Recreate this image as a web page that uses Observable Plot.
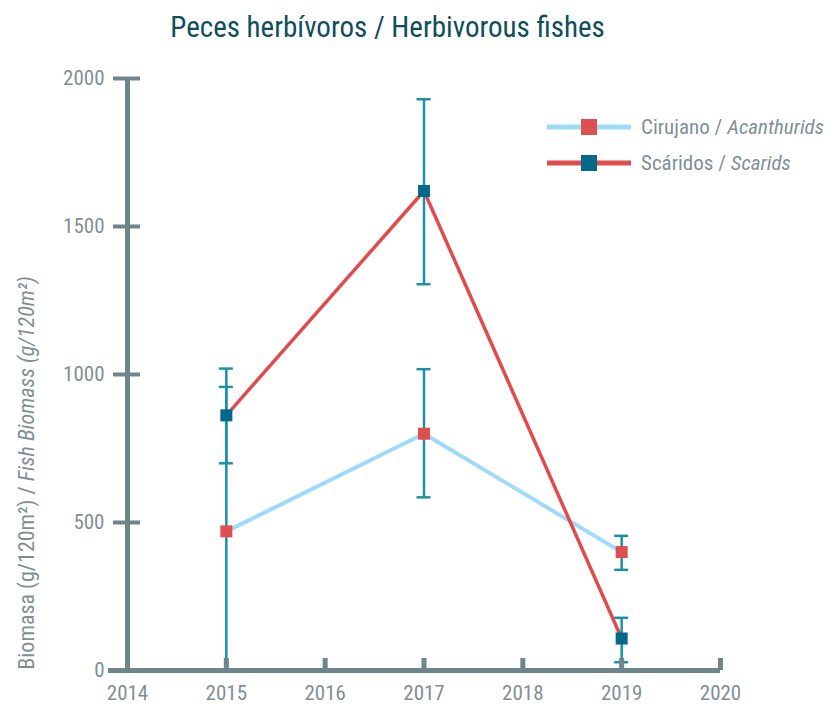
<!DOCTYPE html>
<html><head><meta charset="utf-8">
<script src="https://cdn.jsdelivr.net/npm/d3@7"></script>
<script src="https://cdn.jsdelivr.net/npm/@observablehq/plot@0.6"></script>
<style>
body{margin:0;background:#fff;}
#wrap{position:relative;width:829px;height:707px;overflow:hidden;font-family:"Liberation Sans Narrow","Roboto Condensed","DejaVu Sans Condensed","Arial Narrow",sans-serif;}
#chart{position:absolute;left:0;top:0;}
#title{position:absolute;left:0;width:775px;top:10px;text-align:center;font-size:29px;color:#0e4f5b;white-space:nowrap;}
#ylabel{position:absolute;left:26px;top:473px;transform:translate(-50%,-50%) rotate(-90deg);white-space:nowrap;font-size:22px;color:#7f9095;}
#legend{position:absolute;left:547px;top:109px;}
.lrow{display:flex;align-items:center;height:36px;font-size:21px;color:#7f9095;white-space:nowrap;}
.lrow svg{margin-right:10px;}
</style>
</head><body>
<div id="wrap">
  <div id="chart"></div>
  <div id="title">Peces herbívoros / Herbivorous fishes</div>
  <div id="ylabel">Biomasa (g/120m²) / <i>Fish Biomass (g/120m²)</i></div>
  <div id="legend"></div>
</div>
<script>
// ---- data ----
const years = [2015, 2017, 2019];
const cirujanoMean = [470, 800, 400];
const cirujanoLow  = [-18, 585, 340];
const cirujanoHigh = [958, 1018, 455];
const scaridosMean = [862, 1620, 108];
const scaridosLow  = [700, 1305, 28];
const scaridosHigh = [1020, 1930, 178];
const xTicks = [2014, 2015, 2016, 2017, 2018, 2019, 2020];
const yTicks = [0, 500, 1000, 1500, 2000];
const seriesNames = ["Cirujano", "Scáridos"];
const legendLatin = ["Acanthurids", "Scarids"];

// ---- style ----
const axisGray = "#6f858c";
const textGray = "#7f9095";
const errColor = "#1a91a6";
const lineColors = ["#9edbf8", "#e04b4e"];
const squareColors = ["#e04f50", "#04698a"];
const lineWidths = [4, 3.5];

function rowsFor(name, mean, low, high) {
  return years.map((yr, i) => ({series: name, year: yr, mean: mean[i], low: low[i], high: high[i]}));
}
const data = [
  rowsFor(seriesNames[0], cirujanoMean, cirujanoLow, cirujanoHigh),
  rowsFor(seriesNames[1], scaridosMean, scaridosLow, scaridosHigh)
];
const all = data.flat();

const fontFam = '"Liberation Sans Narrow","Roboto Condensed","DejaVu Sans Condensed","Arial Narrow",sans-serif';

const chart = Plot.plot({
  width: 829, height: 707,
  marginLeft: 127, marginRight: 109, marginTop: 78, marginBottom: 37,
  x: {domain: [2014, 2020]},
  y: {domain: [0, 2000]},
  style: {fontFamily: fontFam, background: "#fff", overflow: "visible"},
  marks: [
    Plot.axisX({ticks: xTicks, tickSize: 0, tickPadding: 15, tickFormat: d => String(d), fontSize: 21, fill: textGray, label: null}),
    Plot.axisY({ticks: yTicks, tickSize: 0, tickPadding: 23, tickFormat: d => String(d), fontSize: 21, fill: textGray, label: null}),
    // lines
    Plot.line(data[0], {x: "year", y: "mean", stroke: lineColors[0], strokeWidth: lineWidths[0]}),
    Plot.line(data[1], {x: "year", y: "mean", stroke: lineColors[1], strokeWidth: lineWidths[1]}),
    // error bars
    Plot.ruleX(all, {x: "year", y1: "low", y2: "high", stroke: errColor, strokeWidth: 2.5, clip: true}),
    Plot.ruleY(all, {x1: "year", x2: "year", y: "high", insetLeft: -7, insetRight: -7, stroke: errColor, strokeWidth: 2.5, clip: true}),
    Plot.ruleY(all, {x1: "year", x2: "year", y: "low", insetLeft: -7, insetRight: -7, stroke: errColor, strokeWidth: 2.5, clip: true}),
    // axes lines & ticks
    Plot.ruleX([xTicks[0]], {stroke: axisGray, strokeWidth: 5}),
    Plot.ruleY([0], {stroke: axisGray, strokeWidth: 5, insetLeft: -19}),
    Plot.ruleY(yTicks, {x1: xTicks[0], x2: xTicks[0], y: d => d, insetLeft: -14, insetRight: -13, stroke: axisGray, strokeWidth: 4}),
    Plot.ruleX(xTicks.slice(1), {x: d => d, y1: 0, y2: 0, insetBottom: 12, stroke: axisGray, strokeWidth: 5}),
    // markers
    Plot.dot(data[0], {x: "year", y: "mean", symbol: "square", r: 6.8, fill: squareColors[0], stroke: "none"}),
    Plot.dot(data[1], {x: "year", y: "mean", symbol: "square", r: 6.8, fill: squareColors[1], stroke: "none"})
  ]
});
document.getElementById("chart").appendChild(chart);

// legend
const legend = d3.select("#legend");
seriesNames.forEach((name, i) => {
  const row = legend.append("div").attr("class", "lrow");
  const s = row.append("svg").attr("width", 84).attr("height", 20);
  s.append("line").attr("x1", 0).attr("x2", 84).attr("y1", 10).attr("y2", 10)
    .attr("stroke", lineColors[i]).attr("stroke-width", 5);
  s.append("rect").attr("x", 34).attr("y", 2).attr("width", 16).attr("height", 16).attr("fill", squareColors[i]);
  const t = row.append("span");
  t.append("span").text(name + " / ");
  t.append("i").text(legendLatin[i]);
});
</script>
</body></html>
